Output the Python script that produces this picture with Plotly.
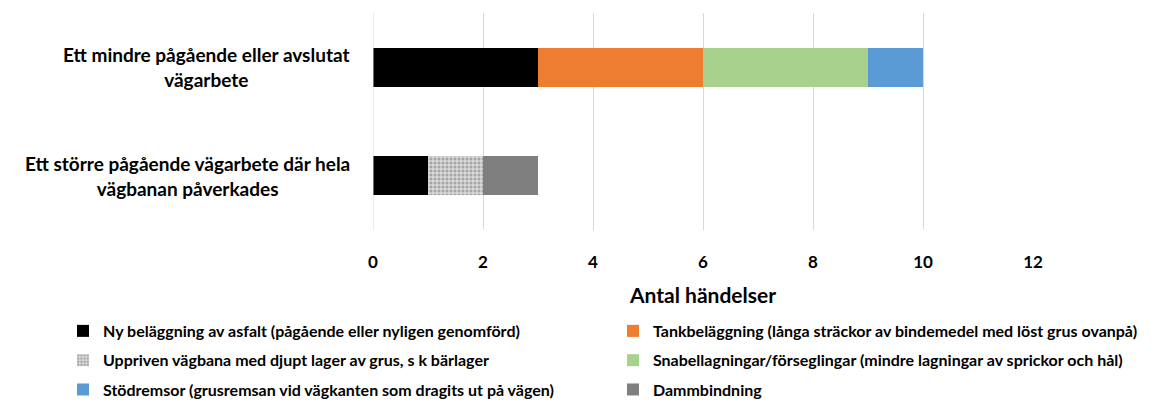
import plotly.graph_objects as go

categories = ["Ett större pågående vägarbete där hela<br>vägbanan påverkades",
              "Ett mindre pågående eller avslutat<br>vägarbete"]
series_names = [
    "Ny beläggning av asfalt (pågående eller nyligen genomförd)",
    "Tankbeläggning (långa sträckor av bindemedel med löst grus ovanpå)",
    "Uppriven vägbana med djupt lager av grus, s k bärlager",
    "Snabellagningar/förseglingar (mindre lagningar av sprickor och hål)",
    "Stödremsor (grusremsan vid vägkanten som dragits ut på vägen)",
    "Dammbindning",
]
# values per series: [större, mindre]
ny_belaggning = [1, 3]
tankbelaggning = [0, 3]
uppriven = [1, 0]
snabellagningar = [0, 3]
stodremsor = [0, 1]
dammbindning = [1, 0]
x_ticks = [0, 2, 4, 6, 8, 10, 12]

values = [ny_belaggning, tankbelaggning, uppriven, snabellagningar, stodremsor, dammbindning]
colors = ["#000000", "#ED7D31", "#D0D0D0", "#A9D18E", "#5B9BD5", "#7F7F7F"]
legend_ids = ["legend", "legend2", "legend", "legend2", "legend", "legend2"]

FONT = "Lato"
fig = go.Figure()
for k, (name, vals, col, lg) in enumerate(zip(series_names, values, colors, legend_ids)):
    marker = dict(color=col, line=dict(width=0))
    if name.startswith("Uppriven"):
        marker["pattern"] = dict(shape=".", fgcolor="#707070", bgcolor="#D8D8D8",
                                 size=4, solidity=0.45)
    fig.add_trace(go.Bar(
        y=list(range(len(categories))), x=vals, name=name, orientation="h",
        marker=marker, width=0.36, legend=lg, legendgroup=f"g{k}",
    ))

for i, cat in enumerate(categories):
    fig.add_annotation(x=-0.032, xref="paper", y=i, yref="y", text=cat,
                       showarrow=False, xanchor="right", yanchor="middle",
                       align="center",
                       font=dict(family=FONT, size=19, color="#000000", weight="bold"))

legend_common = dict(orientation="v", yanchor="top", traceorder="grouped",
                     font=dict(family=FONT, size=16, weight="bold", color="#000000"),
                     itemwidth=30, bgcolor="rgba(0,0,0,0)", tracegroupgap=5.5)

fig.update_layout(
    barmode="stack",
    width=1146, height=400,
    margin=dict(l=365, r=121, t=5, b=178, autoexpand=False),
    plot_bgcolor="white", paper_bgcolor="white",
    font=dict(family=FONT, size=15, color="#000000"),
    xaxis=dict(range=[0, 12], tickvals=x_ticks, showgrid=True, gridcolor="#D9D9D9",
               gridwidth=1, zeroline=False, showline=False, ticklabelstandoff=20,
               tickfont=dict(family=FONT, size=17, weight="bold"),
               title=dict(text="Antal händelser", standoff=17,
                          font=dict(family=FONT, size=21, weight="bold"))),
    yaxis=dict(range=[-0.5, 1.5], showticklabels=False, showgrid=False, zeroline=False),
    showlegend=True,
    legend=dict(x=-0.4697, xanchor="left", y=-0.387, **legend_common),
    legend2=dict(x=0.3636, xanchor="left", y=-0.387, **legend_common),
)
fig.add_shape(type="line", xref="x", yref="paper", x0=0, x1=0, y0=0, y1=1,
              line=dict(color="#D9D9D9", width=1))

fig.write_html("out.html")
